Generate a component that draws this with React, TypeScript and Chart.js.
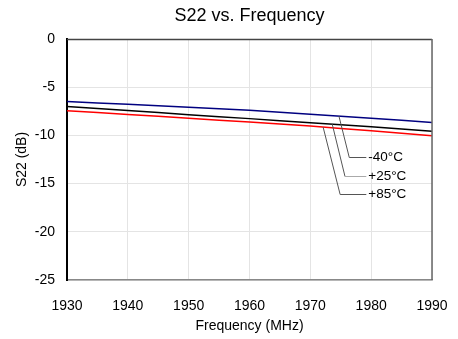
import { useEffect, useRef } from "react";
import { Chart, registerables } from "chart.js";

Chart.register(...registerables);

const frequencies = [1930, 1940, 1950, 1960, 1970, 1980, 1990];
const s22Minus40 = [-6.49, -6.78, -7.09, -7.4, -7.8, -8.22, -8.66];
const s22Plus25 = [-7.01, -7.42, -7.85, -8.26, -8.68, -9.11, -9.58];
const s22Plus85 = [-7.43, -7.82, -8.22, -8.62, -9.03, -9.53, -10.03];

const chartTitle = "S22 vs. Frequency";
const seriesLabels = ["-40°C", "+25°C", "+85°C"];
const seriesColors = ["#000080", "#000000", "#ff0000"];

// leader annotations: start freq on curve, elbow freq, elbow dB, end freq
const leaderStartFreq = [1974.7, 1973.6, 1972.1];
const leaderElbowFreq = [1976.4, 1975.7, 1974.9];
const leaderElbowDb = [-12.29, -14.17, -16.04];
const leaderEndFreq = 1979.2;
const leaderColors = ["#555555", "#555555", "#555555"];
const leaderHorizColors = ["#555555", "#aaaaaa", "#555555"];

const FONT = "'Liberation Sans', Arial, sans-serif";

function interp(xs: number[], ys: number[], x: number) {
  for (let i = 0; i < xs.length - 1; i++) {
    if (x >= xs[i] && x <= xs[i + 1]) {
      const t = (x - xs[i]) / (xs[i + 1] - xs[i]);
      return ys[i] + t * (ys[i + 1] - ys[i]);
    }
  }
  return ys[ys.length - 1];
}

const framePlugin = {
  id: "frameAndLeaders",
  afterDatasetsDraw(chart: any) {
    const { ctx, chartArea, scales } = chart;
    const xs = scales.x;
    const ys = scales.y;
    ctx.save();
    ctx.lineWidth = 1.5;
    ctx.strokeStyle = "#444444";
    ctx.beginPath();
    ctx.moveTo(chartArea.left, chartArea.top + 0.5);
    ctx.lineTo(chartArea.right, chartArea.top + 0.5);
    ctx.stroke();
    ctx.strokeStyle = "#666666";
    ctx.beginPath();
    ctx.moveTo(chartArea.right, chartArea.top);
    ctx.lineTo(chartArea.right, chartArea.bottom);
    ctx.stroke();

    // title centred over plot area
    ctx.fillStyle = "#000000";
    ctx.font = "18px " + FONT;
    ctx.textAlign = "center";
    ctx.textBaseline = "middle";
    ctx.fillText(chartTitle, (chartArea.left + chartArea.right) / 2, 16);

    const series = [s22Minus40, s22Plus25, s22Plus85];
    ctx.lineWidth = 1;
    ctx.font = "13.5px " + FONT;
    ctx.textBaseline = "middle";
    ctx.textAlign = "left";
    for (let i = 0; i < 3; i++) {
      const sx = xs.getPixelForValue(leaderStartFreq[i]);
      const sy = ys.getPixelForValue(interp(frequencies, series[i], leaderStartFreq[i]));
      const ex = xs.getPixelForValue(leaderElbowFreq[i]);
      const ey = Math.round(ys.getPixelForValue(leaderElbowDb[i])) + 0.5;
      const hx = xs.getPixelForValue(leaderEndFreq);
      ctx.strokeStyle = leaderColors[i];
      ctx.beginPath();
      ctx.moveTo(sx, sy);
      ctx.lineTo(ex, ey);
      ctx.stroke();
      ctx.strokeStyle = leaderHorizColors[i];
      ctx.beginPath();
      ctx.moveTo(ex, ey);
      ctx.lineTo(hx, ey);
      ctx.stroke();
      ctx.fillStyle = "#000000";
      ctx.fillText(seriesLabels[i], hx + 2, ey);
    }
    ctx.restore();
  },
};

export default function App() {
  const ref = useRef<HTMLCanvasElement | null>(null);
  useEffect(() => {
    if (!ref.current) return;
    const chart = new Chart(ref.current, {
      type: "line",
      data: {
        datasets: [s22Minus40, s22Plus25, s22Plus85].map((vals, i) => ({
          label: seriesLabels[i],
          data: frequencies.map((f, j) => ({ x: f, y: vals[j] })),
          borderColor: seriesColors[i],
          backgroundColor: seriesColors[i],
          borderWidth: 1.5,
          pointRadius: 0,
          tension: 0.2,
        })),
      },
      options: {
        animation: false,
        responsive: false,
        devicePixelRatio: 1,
        layout: { padding: { left: 0, right: 26, top: 39, bottom: 0 } },
        plugins: {
          legend: { display: false },
          tooltip: { enabled: false },
          title: { display: false },
        },
        scales: {
          x: {
            type: "linear",
            min: 1930,
            max: 1990,
            afterFit: (s: any) => {
              s.height = 59;
              s.paddingLeft = 0;
              s.paddingRight = 0;
            },
            ticks: {
              stepSize: 10,
              color: "#000",
              font: { family: FONT, size: 14 },
              padding: 18,
              maxRotation: 0,
              callback: (v: any) => String(v),
            },
            grid: { color: "#e4e4e4", drawTicks: false, lineWidth: 1 },
            border: { color: "#888888", width: 1.5 },
            title: {
              display: true,
              text: "Frequency (MHz)",
              color: "#000",
              font: { family: FONT, size: 14 },
              padding: { top: 0, bottom: 4.6 },
            },
          },
          y: {
            min: -25,
            max: 0,
            afterFit: (s: any) => {
              s.width = 67;
              s.paddingTop = 0;
              s.paddingBottom = 0;
            },
            ticks: {
              stepSize: 5,
              color: "#000",
              font: { family: FONT, size: 14 },
              padding: 12,
            },
            grid: { color: "#e4e4e4", drawTicks: false, lineWidth: 1 },
            border: { color: "#000000", width: 2 },
            title: {
              display: true,
              text: "S22 (dB)",
              color: "#000",
              font: { family: FONT, size: 14 },
              padding: { top: 13.3, bottom: 0 },
            },
          },
        },
      },
      plugins: [framePlugin],
    });
    return () => chart.destroy();
  }, []);
  return (
    <div style={{ position: "absolute", left: 0, top: 0, width: 458, height: 339, background: "#fff" }}>
      <canvas ref={ref} width={458} height={339} style={{ width: 458, height: 339, display: "block" }} />
    </div>
  );
}
